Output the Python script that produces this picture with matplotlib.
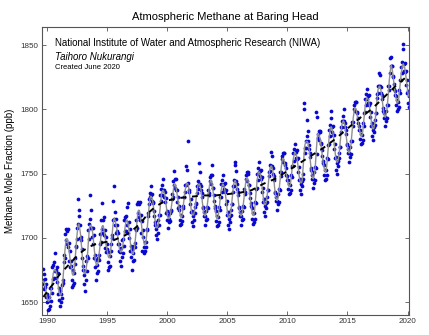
import numpy as np
import pandas as pd
import matplotlib
matplotlib.use('Agg')
import matplotlib.pyplot as plt

plt.rcParams['font.family'] = ['Liberation Sans', 'DejaVu Sans']

# Muestras de CH4 (ppb), 24 por año (quincenales); 1989 empieza en la muestra 14
y1989 = [1664, 1676, 1667, 1660, 1672, 1662, 1668, 1654, 1664, 1650]
y1990 = [1656, 1644, 1651, 1645, 1654, 1647, 1661, 1651, 1661, 1657, 1677, 1668, 1679, 1669, 1681, 1674, 1688, 1675, 1669, 1677, 1666, 1673, 1656, 1661]
y1991 = [1652, 1659, 1647, 1656, 1650, 1663, 1653, 1667, 1665, 1687, 1681, 1684, 1703, 1698, 1707, 1695, 1705, 1707, 1693, 1696, 1682, 1690, 1677, 1682]
y1992 = [1678, 1667, 1662, 1675, 1663, 1673, 1665, 1684, 1680, 1694, 1693, 1708, 1699, 1711, 1730, 1717, 1722, 1700, 1710, 1698, 1701, 1684, 1691, 1675]
y1993 = [1678, 1664, 1671, 1659, 1674, 1667, 1682, 1674, 1686, 1684, 1706, 1699, 1711, 1733, 1715, 1708, 1722, 1708, 1701, 1708, 1695, 1702, 1684, 1687]
y1994 = [1677, 1683, 1667, 1679, 1673, 1684, 1674, 1687, 1683, 1703, 1695, 1697, 1714, 1707, 1727, 1704, 1714, 1716, 1702, 1706, 1692, 1701, 1689, 1695]
y1995 = [1691, 1681, 1675, 1689, 1677, 1686, 1678, 1695, 1690, 1702, 1700, 1714, 1729, 1715, 1740, 1720, 1710, 1704, 1715, 1705, 1710, 1695, 1704, 1690]
y1996 = [1695, 1682, 1689, 1678, 1692, 1685, 1698, 1688, 1699, 1694, 1714, 1705, 1716, 1705, 1717, 1710, 1724, 1727, 1704, 1712, 1700, 1707, 1690, 1694]
y1997 = [1685, 1691, 1675, 1688, 1682, 1694, 1683, 1696, 1693, 1714, 1706, 1708, 1726, 1719, 1728, 1716, 1726, 1728, 1714, 1718, 1704, 1713, 1690, 1706]
y1998 = [1701, 1693, 1688, 1697, 1690, 1697, 1693, 1707, 1706, 1717, 1719, 1730, 1726, 1735, 1732, 1740, 1733, 1729, 1734, 1727, 1728, 1717, 1721, 1710]
y1999 = [1712, 1702, 1707, 1699, 1709, 1704, 1714, 1710, 1718, 1718, 1733, 1729, 1738, 1733, 1741, 1737, 1746, 1737, 1732, 1736, 1728, 1731, 1719, 1721]
y2000 = [1714, 1718, 1708, 1715, 1712, 1719, 1713, 1722, 1721, 1734, 1730, 1732, 1744, 1741, 1752, 1739, 1746, 1746, 1737, 1737, 1728, 1732, 1723, 1725]
y2001 = [1722, 1714, 1710, 1718, 1711, 1717, 1713, 1725, 1723, 1732, 1732, 1741, 1736, 1756, 1741, 1753, 1742, 1775, 1743, 1736, 1737, 1726, 1730, 1720]
y2002 = [1721, 1712, 1717, 1709, 1719, 1714, 1724, 1719, 1727, 1726, 1740, 1735, 1744, 1738, 1758, 1742, 1751, 1742, 1737, 1740, 1732, 1735, 1723, 1724]
y2003 = [1717, 1720, 1710, 1717, 1714, 1721, 1715, 1724, 1723, 1737, 1733, 1735, 1747, 1744, 1749, 1742, 1757, 1749, 1739, 1739, 1729, 1733, 1723, 1725]
y2004 = [1721, 1713, 1709, 1717, 1710, 1716, 1712, 1724, 1722, 1732, 1732, 1742, 1736, 1745, 1741, 1749, 1742, 1738, 1743, 1736, 1737, 1726, 1729, 1718]
y2005 = [1720, 1710, 1715, 1707, 1717, 1712, 1722, 1718, 1726, 1726, 1740, 1736, 1745, 1740, 1759, 1757, 1752, 1744, 1738, 1742, 1733, 1736, 1723, 1724]
y2006 = [1717, 1720, 1710, 1717, 1714, 1721, 1715, 1725, 1724, 1738, 1734, 1736, 1749, 1746, 1751, 1744, 1750, 1751, 1741, 1741, 1731, 1735, 1725, 1727]
y2007 = [1723, 1715, 1711, 1719, 1712, 1719, 1715, 1728, 1727, 1738, 1739, 1750, 1745, 1754, 1751, 1759, 1752, 1748, 1753, 1746, 1747, 1736, 1739, 1728]
y2008 = [1730, 1720, 1725, 1717, 1727, 1723, 1732, 1728, 1737, 1737, 1751, 1748, 1757, 1752, 1767, 1756, 1764, 1756, 1750, 1754, 1745, 1748, 1735, 1736]
y2009 = [1729, 1732, 1722, 1729, 1726, 1734, 1728, 1738, 1737, 1751, 1748, 1751, 1764, 1761, 1766, 1759, 1766, 1766, 1757, 1758, 1749, 1754, 1745, 1748]
y2010 = [1745, 1738, 1734, 1742, 1735, 1741, 1737, 1749, 1747, 1756, 1756, 1766, 1760, 1769, 1766, 1773, 1767, 1762, 1768, 1761, 1762, 1751, 1755, 1745]
y2011 = [1746, 1737, 1742, 1734, 1744, 1740, 1750, 1746, 1805, 1800, 1770, 1766, 1775, 1770, 1779, 1792, 1783, 1775, 1769, 1772, 1763, 1766, 1753, 1754]
y2012 = [1746, 1749, 1739, 1746, 1743, 1751, 1745, 1755, 1754, 1798, 1765, 1794, 1781, 1778, 1783, 1776, 1782, 1783, 1773, 1774, 1764, 1768, 1758, 1760]
y2013 = [1757, 1749, 1745, 1753, 1746, 1753, 1749, 1762, 1761, 1772, 1773, 1784, 1779, 1788, 1799, 1793, 1786, 1782, 1787, 1780, 1780, 1769, 1773, 1762]
y2014 = [1763, 1753, 1758, 1750, 1760, 1756, 1766, 1762, 1771, 1771, 1786, 1782, 1791, 1786, 1795, 1791, 1800, 1791, 1786, 1789, 1781, 1784, 1772, 1773]
y2015 = [1766, 1769, 1759, 1766, 1763, 1771, 1765, 1775, 1775, 1790, 1787, 1790, 1803, 1800, 1806, 1799, 1806, 1806, 1797, 1798, 1789, 1793, 1784, 1787]
y2016 = [1784, 1777, 1773, 1781, 1774, 1780, 1776, 1789, 1787, 1797, 1798, 1808, 1803, 1812, 1808, 1816, 1810, 1805, 1811, 1803, 1805, 1794, 1798, 1787]
y2017 = [1789, 1779, 1784, 1776, 1786, 1782, 1792, 1788, 1797, 1797, 1812, 1809, 1818, 1813, 1828, 1818, 1827, 1818, 1813, 1817, 1808, 1811, 1799, 1801]
y2018 = [1793, 1797, 1787, 1794, 1791, 1799, 1793, 1803, 1803, 1818, 1815, 1818, 1840, 1828, 1834, 1841, 1834, 1834, 1825, 1826, 1816, 1820, 1811, 1814]
y2019 = [1810, 1803, 1799, 1807, 1800, 1806, 1802, 1815, 1813, 1823, 1823, 1833, 1828, 1837, 1851, 1847, 1835, 1830, 1836, 1829, 1830, 1819, 1823, 1813]
y2020 = [1814, 1805, 1810, 1802]

anios = list(range(1989, 2021))
muestras = [y1989, y1990, y1991, y1992, y1993, y1994, y1995, y1996, y1997, y1998,
            y1999, y2000, y2001, y2002, y2003, y2004, y2005, y2006, y2007, y2008,
            y2009, y2010, y2011, y2012, y2013, y2014, y2015, y2016, y2017, y2018,
            y2019, y2020]

# Tendencia de largo plazo (ppb)
tend_t = [1989.7, 1990.0, 1990.5, 1991.0, 1991.5, 1992.0, 1992.5, 1993.0, 1993.5, 1994.0,
          1994.5, 1995.0, 1995.5, 1996.0, 1996.5, 1997.0, 1997.5, 1998.0, 1998.5, 1999.0,
          1999.5, 2000.0, 2001.0, 2002.0, 2003.0, 2004.0, 2005.0, 2006.0, 2007.0, 2008.0,
          2009.0, 2010.0, 2011.0, 2012.0, 2013.0, 2014.0, 2015.0, 2016.0, 2017.0, 2018.0,
          2019.0, 2020.0, 2020.1]
tend_ppb = [1654, 1658, 1664, 1671, 1676, 1681, 1686, 1690, 1693, 1695,
            1696, 1697, 1698, 1700, 1702, 1705, 1709, 1714, 1720, 1724,
            1727, 1729, 1731, 1732, 1733, 1733, 1734, 1735, 1737, 1742,
            1746, 1752, 1758, 1764, 1770, 1777, 1785, 1793, 1800, 1809,
            1818, 1826, 1827]

# Fechas decimales de cada muestra
t = []
v = []
for anio, vals in zip(anios, muestras):
    k0 = 14 if anio == 1989 else 0
    for i, val in enumerate(vals):
        t.append(anio + (k0 + i + 0.5) / 24)
        v.append(val)
t = np.array(t)
v = np.array(v, dtype=float)

# Curva estacional suavizada (mediana móvil + media móvil)
ajuste = pd.Series(v).rolling(7, center=True, min_periods=1).median()
ajuste = ajuste.rolling(5, center=True, min_periods=1).mean()

fig = plt.figure(figsize=(4.29, 3.35), dpi=100)
ax = fig.add_axes([42/429, 20/335, 367/429, 288/335])

ax.plot(t, v, 'o', color='#0808cf', ms=2.7, mew=0, zorder=2)
ax.plot(t, ajuste, color='#909090', lw=1.0, zorder=3)
ax.plot(tend_t, tend_ppb, color='black', lw=1.4, ls=(0, (3, 3)), zorder=4)

ax.set_xlim(1989.58, 2020.12)
ax.set_ylim(1640, 1864)
ax.set_xticks([1990, 1995, 2000, 2005, 2010, 2015, 2020])
ax.set_yticks([1650, 1700, 1750, 1800, 1850])
ax.tick_params(direction='in', length=3, width=0.6, top=True, right=True,
               labelsize=5.8, labelcolor='#333333', color='#555555', pad=2.5)
for s in ax.spines.values():
    s.set_color('#555555')
    s.set_linewidth(0.8)

ax.set_title('Atmospheric Methane at Baring Head', fontsize=8, pad=5)
ax.set_ylabel('Methane Mole Fraction (ppb)', fontsize=7, labelpad=4)

ax.text(0.035, 0.944, 'National Institute of Water and Atmospheric Research (NIWA)',
        transform=ax.transAxes, fontsize=7, va='center')
ax.text(0.035, 0.896, 'Taihoro Nukurangi', transform=ax.transAxes,
        fontsize=7, style='italic', va='center')
ax.text(0.035, 0.861, 'Created June 2020', transform=ax.transAxes,
        fontsize=5.5, va='center')

fig.savefig('out.png', dpi=100)
